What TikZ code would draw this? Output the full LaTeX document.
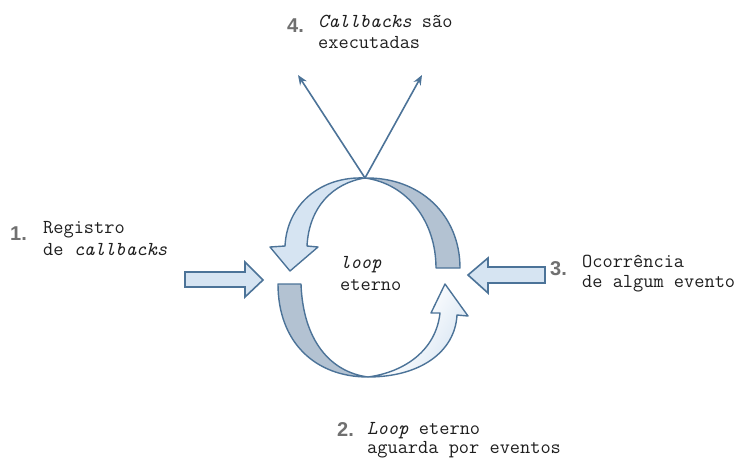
\documentclass[tikz,border=0pt]{standalone}
\usepackage{fontspec}
\usetikzlibrary{arrows.meta}
\newfontfamily\numfam{Liberation Sans}
\definecolor{edge}{HTML}{4C7398}
\definecolor{lightband}{HTML}{D6E4F2}
\definecolor{darkband}{HTML}{B3C2D2}
\definecolor{numgray}{HTML}{707070}
\definecolor{ink}{HTML}{1E1E1E}
\tikzset{
  ribbon/.style={draw=edge, line width=1.4pt, line join=round},
  lightpart/.style={ribbon, fill=lightband},
  darkpart/.style={ribbon, fill=darkband},
  blockarrow/.style={draw=edge, line width=1.6pt, fill=lightband, line join=miter},
  thinarrow/.style={draw=edge, line width=1.6pt, -{Stealth[length=10pt,width=8pt]}},
  txt/.style={font=\ttfamily\fontsize{19.8}{22}\selectfont, text=ink, inner sep=0pt, anchor=base west},
  num/.style={font=\numfam\bfseries\fontsize{20}{24}\selectfont, text=numgray, inner sep=0pt, anchor=base west},
}
\begin{document}
\begin{tikzpicture}[x=1pt,y=-1pt]
\useasboundingbox (0,0) rectangle (742,458);

% upper right: back side of the ribbon
\path[darkpart] (365,178) .. controls (420,177) and (460,215) .. (460,268)
  -- (436,268) .. controls (436,222) and (408,184) .. cycle;

% upper left: arrow running down to the left
\path[lightpart] (365,178) .. controls (320,176) and (287,205) .. (285,246)
  -- (270,247) -- (290,271) -- (318,247) -- (307,246)
  .. controls (309,207) and (333,183) .. cycle;

% lower left: back side of the ribbon
\path[darkpart] (278,284) -- (301,284) .. controls (303,340) and (330,372) .. (368,377)
  .. controls (315,377) and (278,342) .. cycle;

% lower right: arrow running up to the right
\path[lightpart, left color=lightband, right color=lightband, middle color=white!80!lightband, shading angle=60]
  (368,377) .. controls (420,377) and (455,352) .. (457,315)
  -- (468,316) -- (445,284) -- (431,313) -- (440,313)
  .. controls (436,350) and (405,372) .. cycle;

% block arrows pointing into the loop
\path[blockarrow] (185,272) -- (245,272) -- (245,262) -- (263,280) -- (245,297) -- (245,287) -- (185,287) -- cycle;
\path[blockarrow] (545,267) -- (488,267) -- (488,258) -- (468,275) -- (488,293) -- (488,283) -- (545,283) -- cycle;

% callbacks leaving the loop
\coordinate (top) at (365,178);
\coordinate (outL) at (298,75);
\coordinate (outR) at (422,75);
\draw[thinarrow] (top) -- (outL);
\draw[thinarrow] (top) -- (outR);

% labels
\node[num] (n4) at (287,32) {4.};
\node[txt] (t4a) at (318,27) {\itshape Callbacks\upshape{} são};
\node[txt] (t4b) at (318,48) {executadas};

\node[num] (n1) at (10,240) {1.};
\node[txt] (t1a) at (43,233) {Registro};
\node[txt] (t1b) at (43,255) {de \itshape callbacks};

\node[txt] (c1) at (340,268) {\itshape loop};
\node[txt] (c2) at (340,290) {eterno};

\node[num] (n3) at (550,275) {3.};
\node[txt] (t3a) at (582,267) {Ocorrência};
\node[txt] (t3b) at (582,287) {de algum evento};

\node[num] (n2) at (337,436) {2.};
\node[txt] (t2a) at (367,434) {\itshape Loop\upshape{} eterno};
\node[txt] (t2b) at (367,453) {aguarda por eventos};
\end{tikzpicture}
\end{document}
